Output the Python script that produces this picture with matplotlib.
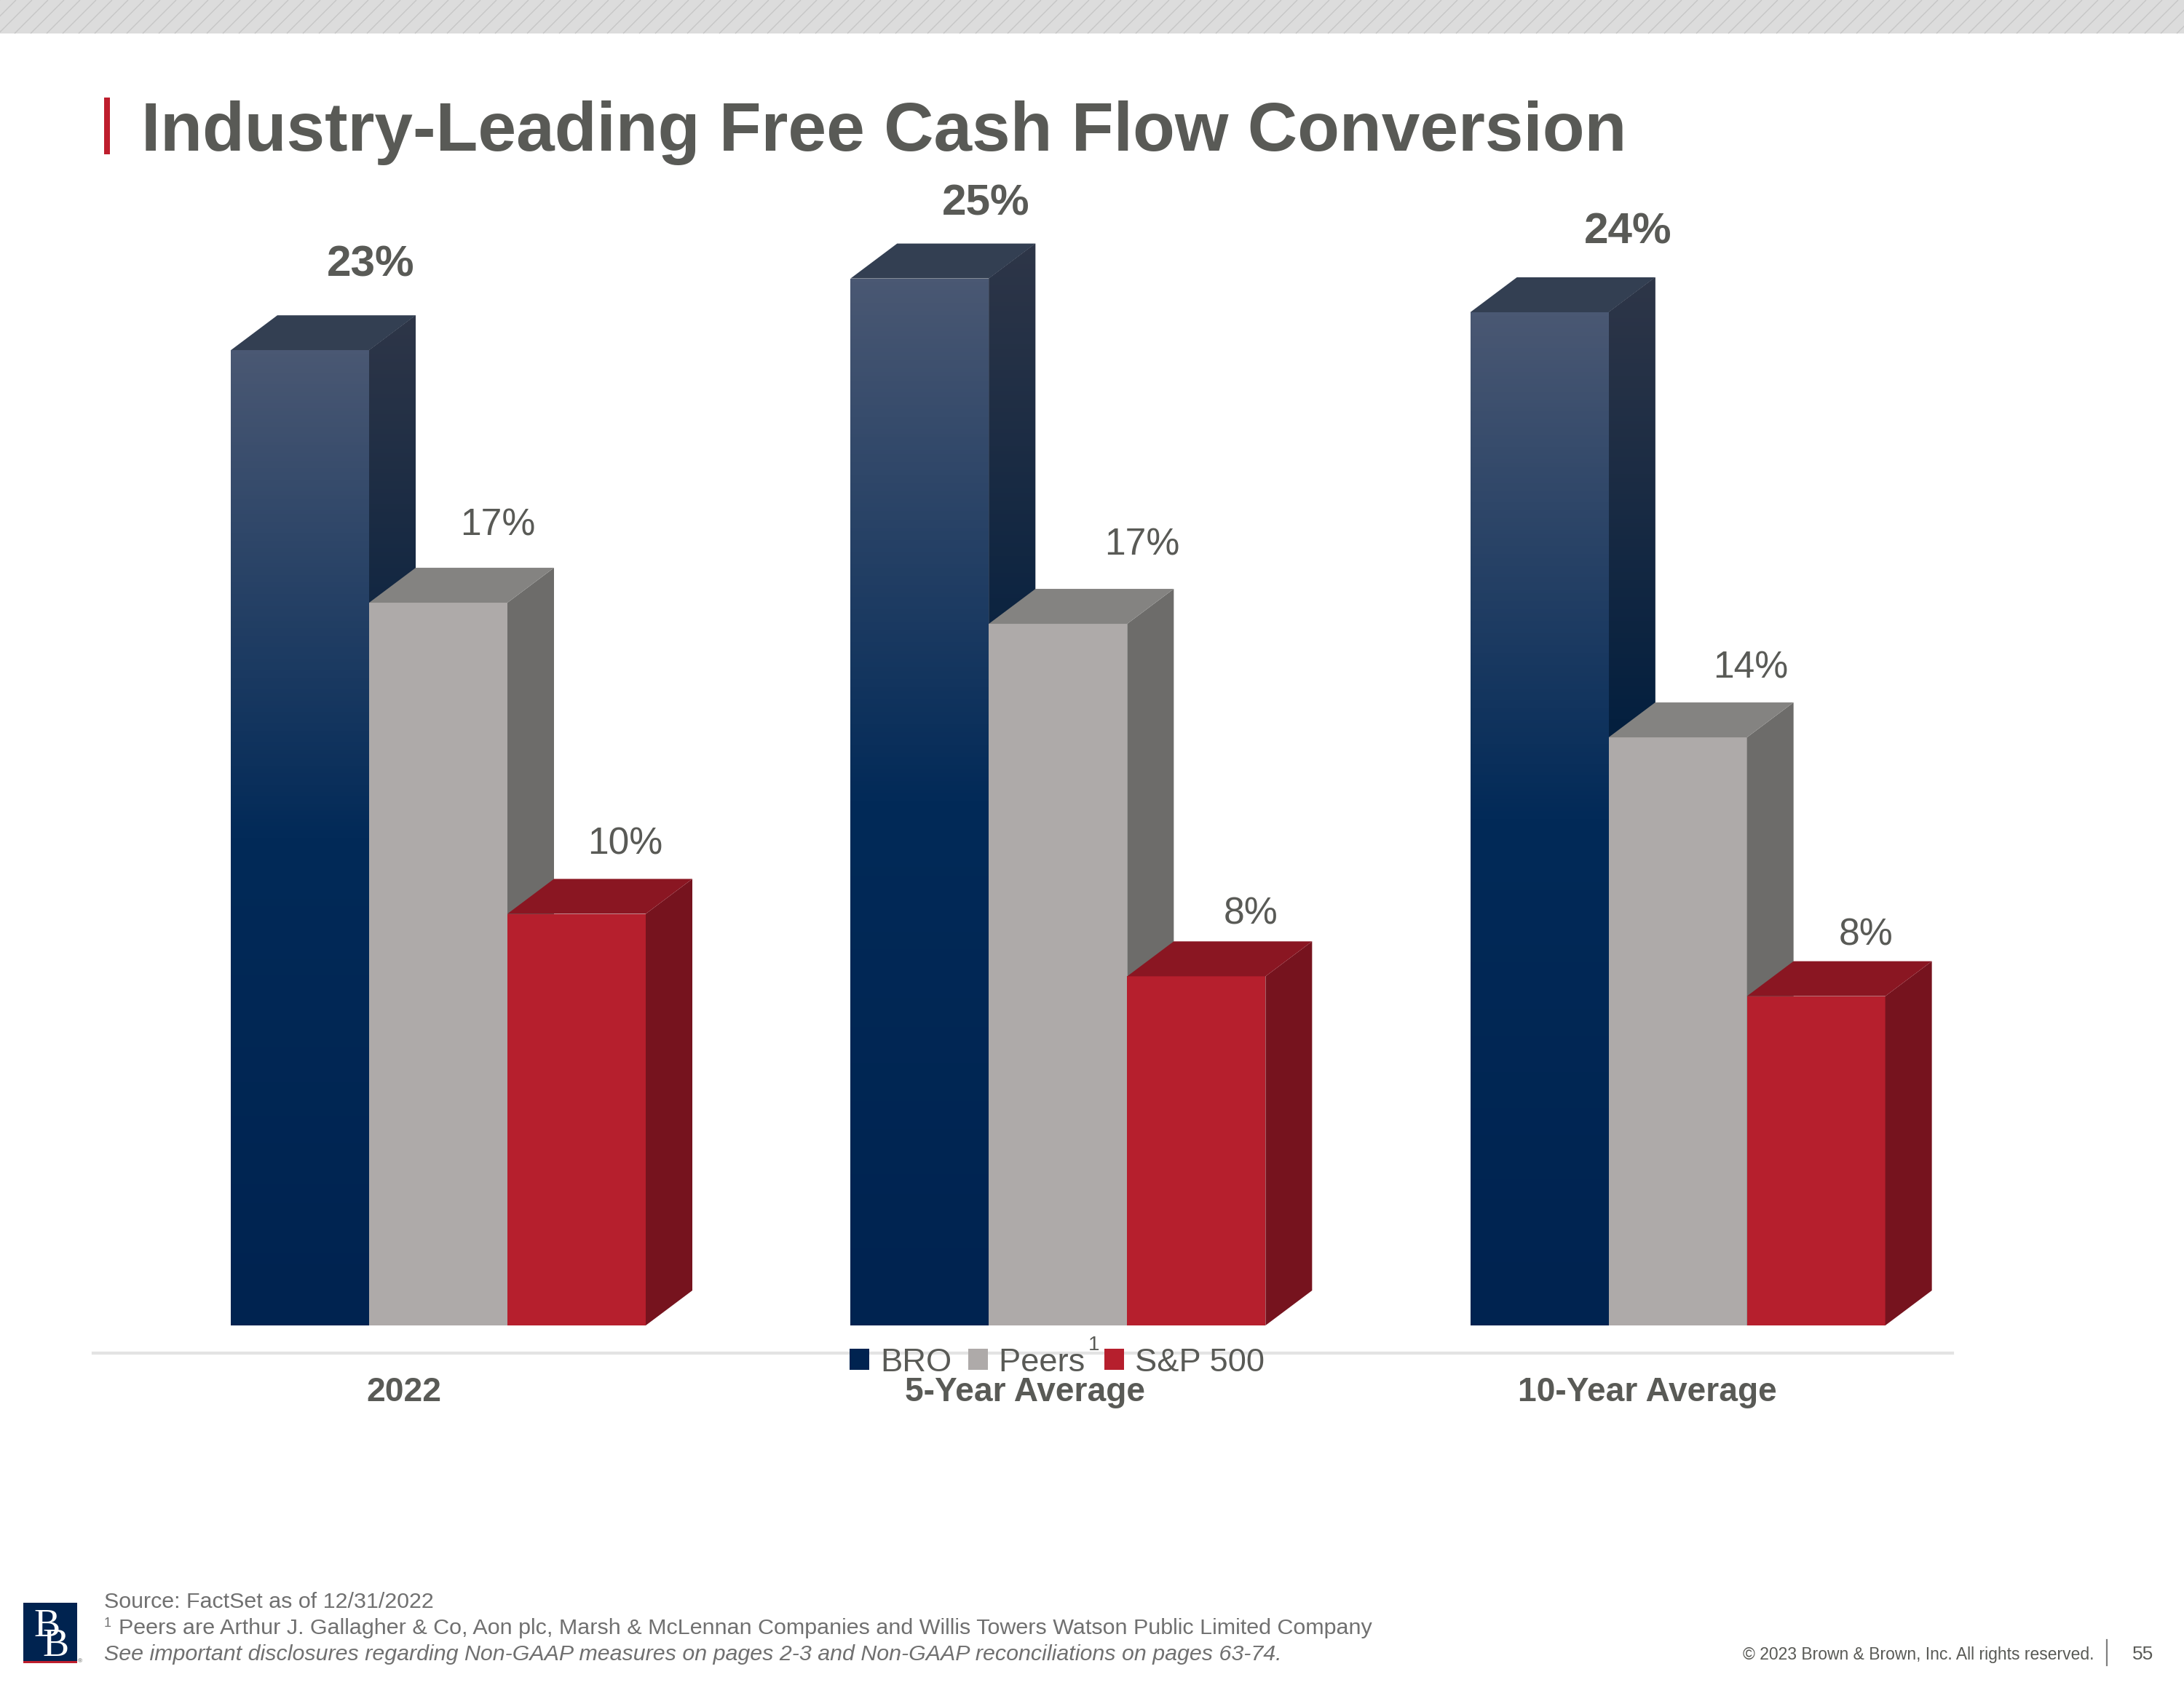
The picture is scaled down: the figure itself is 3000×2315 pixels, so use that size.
import matplotlib
matplotlib.use("Agg")
import matplotlib.pyplot as plt
import numpy as np
from matplotlib.collections import LineCollection
from matplotlib.colors import LinearSegmentedColormap
from matplotlib.patches import Patch, Polygon, Rectangle

plt.rcParams['font.family'] = ['Liberation Sans', 'DejaVu Sans']

# data
categories = ['2022', '5-Year Average', '10-Year Average']
series_names = ['BRO', 'Peers', 'S&P 500']
bro = [23.1, 24.8, 24.0]
peers = [17.12, 16.62, 13.93]
sp500 = [9.75, 8.27, 7.8]
bro_labels = ['23%', '25%', '24%']
peers_labels = ['17%', '17%', '14%']
sp500_labels = ['10%', '8%', '8%']

# label offsets from the middle of the bar front, in pixels
bro_offsets = [(97, 117), (91, 103), (122, 110)]
peers_offsets = [(82, 106), (115, 108), (100, 95)]
sp500_offsets = [(67, 95), (75, 85), (68, 84)]

TEXT = '#595a56'
FOOT = '#707070'
NAVY = '#002350'
RED = '#b61f2d'
GREY = '#aeaaa9'

W, H = 3000, 2315
fig = plt.figure(figsize=(W / 200, H / 200), dpi=200, facecolor='white')

# page furniture, in pixels
bg = fig.add_axes([0, 0, 1, 1], zorder=0)
bg.set_xlim(0, W)
bg.set_ylim(H, 0)
bg.axis('off')

bg.add_patch(Rectangle((0, 0), W, 46, fc='#dcdcdc', ec='none'))
hatch = [[(x, 46), (x + 46, 0)] for x in np.arange(-46, W + 46, 22)]
bg.add_collection(LineCollection(hatch, colors='#c6c6c6', linewidths=0.5))
bg.add_patch(Rectangle((143, 134), 8, 78, fc='#be1e2d', ec='none'))
bg.text(194, 207, 'Industry-Leading Free Cash Flow Conversion', fontsize=34.05,
        fontweight='bold', color=TEXT, va='baseline')

# logo
bg.add_patch(Rectangle((32, 2202), 74, 80, fc=NAVY, ec='none'))
bg.add_patch(Rectangle((32, 2282), 74, 3, fc='#be1e2d', ec='none'))
bg.text(64, 2248, 'B', family='Liberation Serif', fontsize=19.5, color='white', ha='center', va='baseline')
bg.text(76, 2275, 'B', family='Liberation Serif', fontsize=19.5, color='white', ha='center', va='baseline')
bg.text(107, 2284, '®', fontsize=3, color=TEXT, ha='left', va='baseline')

# footer
bg.text(143, 2209, 'Source: FactSet as of 12/31/2022', fontsize=10.95, color=FOOT, va='baseline')
bg.text(143, 2235, '1', fontsize=6.5, color=FOOT, va='baseline')
bg.text(163, 2245, 'Peers are Arthur J. Gallagher & Co, Aon plc, Marsh & McLennan Companies and '
        'Willis Towers Watson Public Limited Company', fontsize=10.98, color=FOOT, va='baseline')
bg.text(143, 2281, 'See important disclosures regarding Non-GAAP measures on pages 2-3 and '
        'Non-GAAP reconciliations on pages 63-74.', fontsize=10.95, style='italic', color=FOOT, va='baseline')
bg.text(2876, 2280, '© 2023 Brown & Brown, Inc. All rights reserved.', fontsize=8.25, color=TEXT,
        ha='right', va='baseline')
bg.plot([2894, 2894], [2253, 2288], color='#808080', lw=0.8)
bg.text(2958, 2280, '55', fontsize=9.5, color=TEXT, ha='right', va='baseline')

# chart, zero line at pixel 1821 and 58 px per percent
ax_left, ax_right, ax_bottom, ax_top = 128, 2682, 1859, 250
ax = fig.add_axes([ax_left / W, 1 - ax_bottom / H, (ax_right - ax_left) / W, (ax_bottom - ax_top) / H],
                  zorder=1)
ax.patch.set_alpha(0)
xlim = (-0.5, 2.5)
ylim = (-38 / 58, (1821 - ax_top) / 58)

group_px = (ax_right - ax_left) / 3
bar_w = 190 / group_px
depth_x = 64 / group_px
depth_y = 48 / 58
start = -0.278
tick_pos = [0.002, 1.0035, 2.008]

front_blue = LinearSegmentedColormap.from_list('front', [(0, '#4a5873'), (0.5, '#022a58'), (1, '#002350')])
side_blue = LinearSegmentedColormap.from_list('side', [(0, '#2e3648'), (0.42, '#05203f'), (1, '#001c3e')])
ramp = np.linspace(0, 1, 256).reshape(-1, 1)


def draw_box(x, value, front, top, side, z, front_map=None, side_map=None):
    bar = ax.bar(x, value, bar_w, align='edge', color=front, linewidth=0, zorder=z)[0]
    side_poly = Polygon([(x + bar_w, 0), (x + bar_w + depth_x, depth_y),
                         (x + bar_w + depth_x, value + depth_y), (x + bar_w, value)],
                        fc=side, ec='none', zorder=z)
    top_poly = Polygon([(x, value), (x + depth_x, value + depth_y),
                        (x + bar_w + depth_x, value + depth_y), (x + bar_w, value)],
                       fc=top, ec='none', zorder=z)
    ax.add_patch(side_poly)
    ax.add_patch(top_poly)
    if front_map is not None:
        im = ax.imshow(ramp, cmap=front_map, aspect='auto', zorder=z + 0.1,
                       extent=(x, x + bar_w, 0, value))
        im.set_clip_path(bar)
        im2 = ax.imshow(ramp, cmap=side_map, aspect='auto', zorder=z + 0.1,
                        extent=(x + bar_w, x + bar_w + depth_x, 0, value + depth_y))
        im2.set_clip_path(side_poly)


rows = [(bro, bro_labels, bro_offsets, 'bold', 21.7),
        (peers, peers_labels, peers_offsets, 'normal', 18.6),
        (sp500, sp500_labels, sp500_offsets, 'normal', 18.6)]
styles = [(NAVY, '#333f52', '#2e3648', front_blue, side_blue),
          (GREY, '#848381', '#6d6c6a', None, None),
          (RED, '#8a1622', '#76131e', None, None)]

for g in range(len(categories)):
    for s, (values, labels, offsets, weight, size) in enumerate(rows):
        x = g + start + s * bar_w
        front, top, side, fmap, smap = styles[s]
        draw_box(x, values[g], front, top, side, 2 + g * 3 + s, fmap, smap)
        ax.annotate(labels[g], (x + bar_w / 2, values[g]), xytext=offsets[g], textcoords='offset pixels',
                    ha='center', va='center', fontsize=size, fontweight=weight, color=TEXT,
                    annotation_clip=False, zorder=30)

ax.set_xlim(*xlim)
ax.set_ylim(*ylim)
ax.set_yticks([])
ax.set_xticks(tick_pos)
ax.set_xticklabels(categories, fontsize=16.6, fontweight='bold', color=TEXT)
ax.tick_params(axis='x', length=0, pad=11.5)
for name in ['top', 'left', 'right']:
    ax.spines[name].set_visible(False)
ax.spines['bottom'].set_color('#e3e3e3')
ax.spines['bottom'].set_linewidth(1.5)

handles = [Patch(fc=NAVY, ec='none'), Patch(fc=GREY, ec='none'), Patch(fc=RED, ec='none')]
legend = ax.legend(handles, ['BRO', 'Peers\u200a', 'S&P 500'], ncol=3, frameon=False, fontsize=16.3,
                   labelcolor=TEXT, handlelength=0.6, handleheight=0.6, handletextpad=0.33,
                   columnspacing=0.5, borderpad=0, borderaxespad=0,
                   loc='center left', bbox_to_anchor=(1167 / W, 1 - 1872 / H), bbox_transform=fig.transFigure)
legend.set_zorder(40)
bg.text(1503, 1848, '1', fontsize=10, color=TEXT, ha='center', va='center')

fig.savefig('out.png', dpi=200)
